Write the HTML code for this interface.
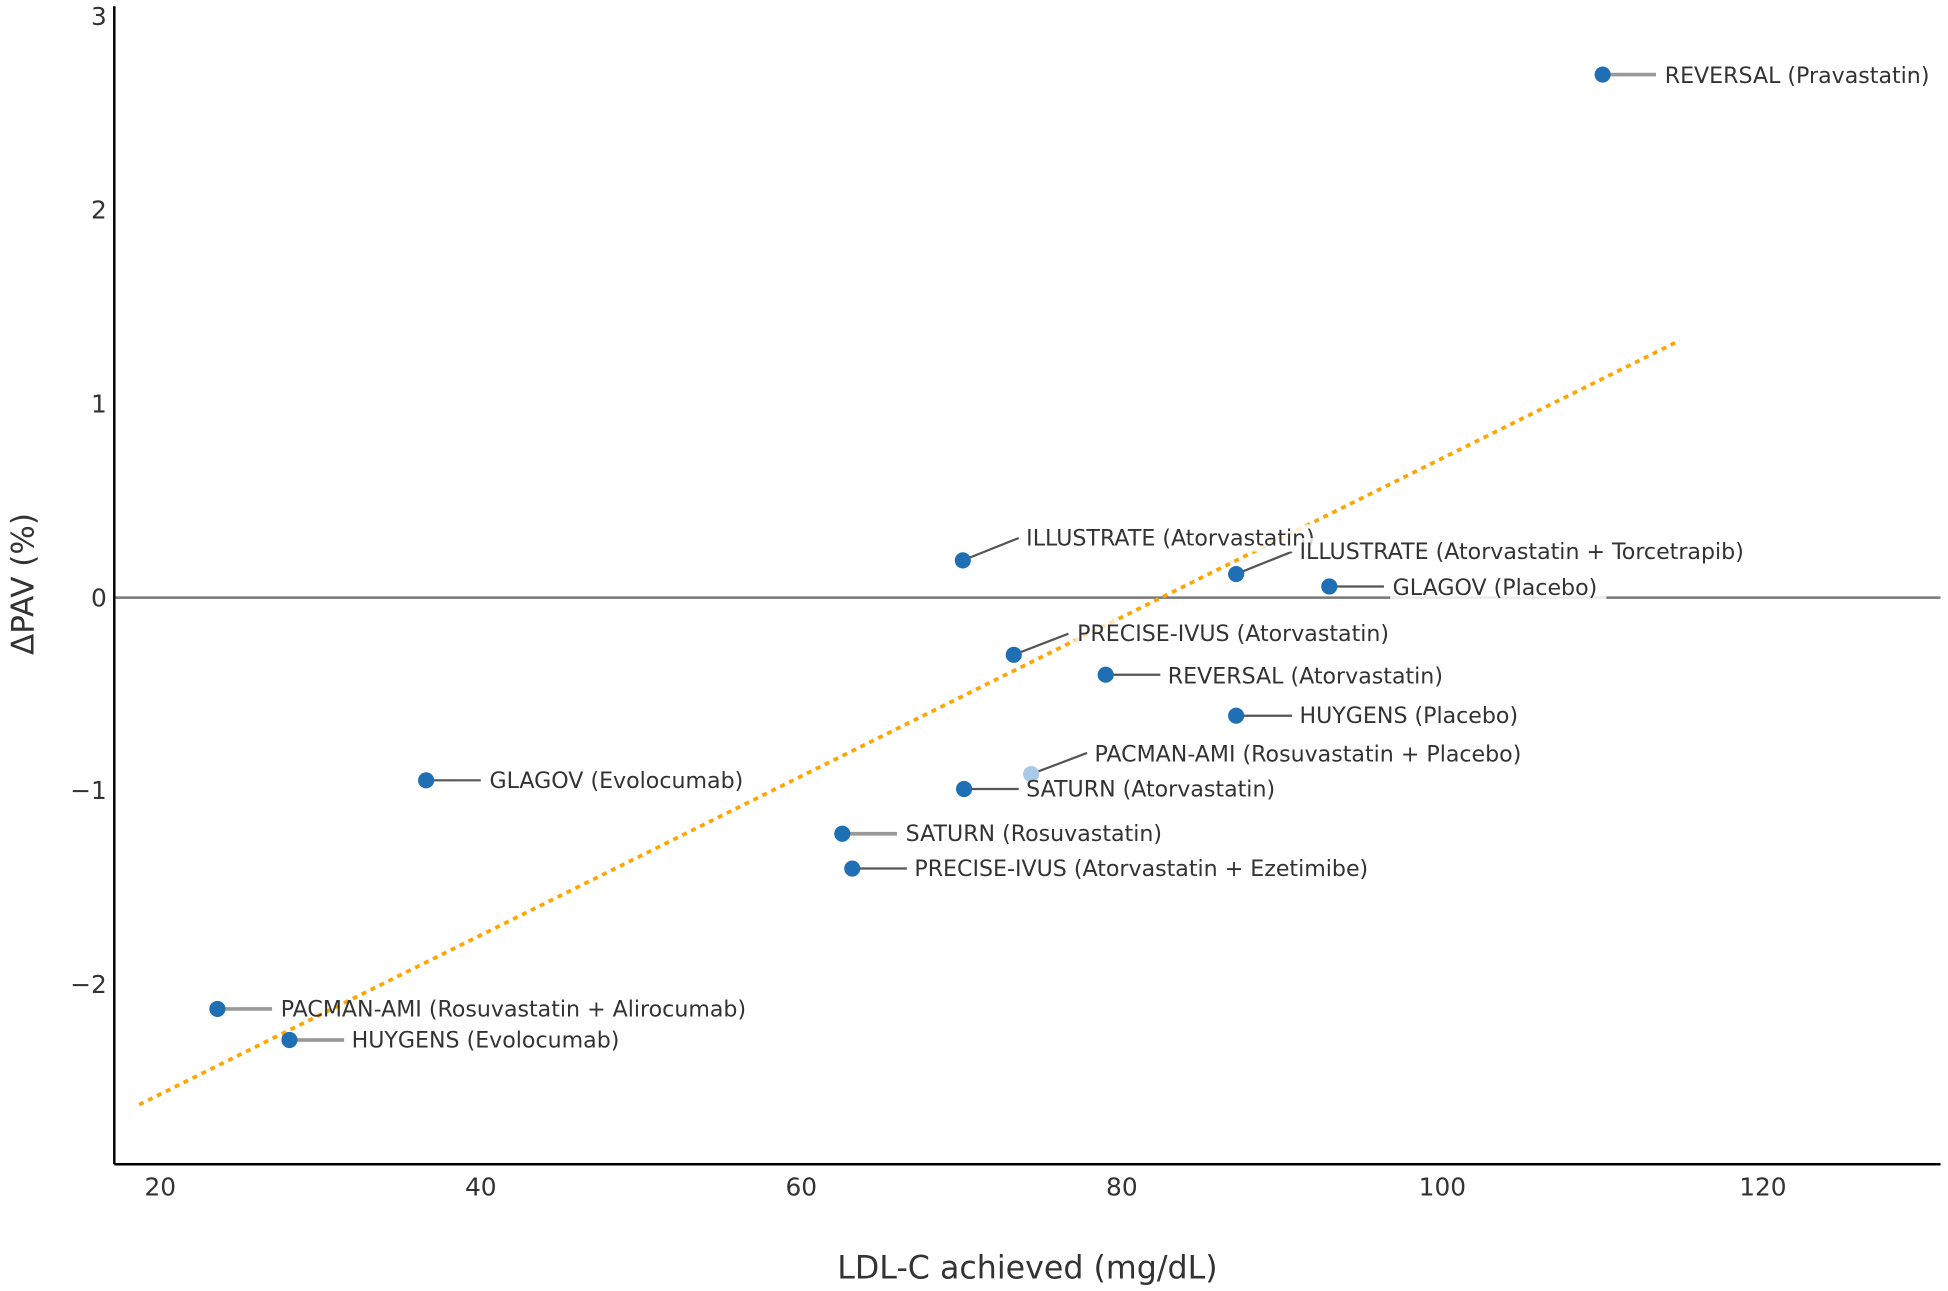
<!DOCTYPE html>
<html><head><meta charset="utf-8"><style>
html,body{margin:0;padding:0;background:#fff;}
svg{display:block;}
text{font-family:"DejaVu Sans","Liberation Sans",sans-serif;fill:#333;}
</style></head><body>
<svg width="1948" height="1291" viewBox="0 0 1568 1039" preserveAspectRatio="none" xmlns="http://www.w3.org/2000/svg">
<rect width="1568" height="1039" fill="#fff"/>
<line x1="92" y1="481" x2="1562" y2="481" stroke="#777" stroke-width="2"/>
<line x1="112" y1="889" x2="1352" y2="274" stroke="#FFA500" stroke-width="3" stroke-dasharray="4,4"/>
<line x1="92" y1="5" x2="92" y2="937" stroke="#000" stroke-width="2"/>
<line x1="92" y1="937" x2="1562" y2="937" stroke="#000" stroke-width="2"/>
<g font-size="20" text-anchor="end">
<text x="86" y="20">3</text><text x="86" y="176">2</text><text x="86" y="332">1</text>
<text x="86" y="488">0</text><text x="86" y="643">−1</text><text x="86" y="799">−2</text>
</g>
<g font-size="20" text-anchor="middle">
<text x="129" y="962">20</text><text x="387" y="962">40</text><text x="645" y="962">60</text>
<text x="903" y="962">80</text><text x="1161" y="962">100</text><text x="1419" y="962">120</text>
</g>
<text x="827" y="1029" font-size="25.5" text-anchor="middle">LDL-C achieved (mg/dL)</text>
<text transform="translate(27,470) rotate(-90)" font-size="25" text-anchor="middle">ΔPAV (%)</text>
<g stroke="#555" stroke-width="1.8">
<line x1="1290" y1="60" x2="1333" y2="60" stroke="#999" stroke-width="3"/>
<line x1="775" y1="451" x2="820" y2="433"/>
<line x1="995" y1="462" x2="1040" y2="444"/>
<line x1="1070" y1="472" x2="1114" y2="472"/>
<line x1="816" y1="527" x2="860" y2="510"/>
<line x1="890" y1="543" x2="934" y2="543"/>
<line x1="995" y1="576" x2="1040" y2="576"/>
<line x1="830" y1="623" x2="875" y2="606"/>
<line x1="776" y1="635" x2="820" y2="635"/>
<line x1="343" y1="628" x2="387" y2="628"/>
<line x1="678" y1="671" x2="722" y2="671" stroke="#999" stroke-width="3"/>
<line x1="686" y1="699" x2="730" y2="699"/>
<line x1="175" y1="812" x2="219" y2="812" stroke="#999" stroke-width="3"/>
<line x1="233" y1="837" x2="277" y2="837" stroke="#999" stroke-width="3"/>
</g>
<g fill="#1f6fb4">
<circle cx="1290" cy="60" r="6.5"/><circle cx="775" cy="451" r="6.5"/>
<circle cx="995" cy="462" r="6.5"/><circle cx="1070" cy="472" r="6.5"/>
<circle cx="816" cy="527" r="6.5"/><circle cx="890" cy="543" r="6.5"/>
<circle cx="995" cy="576" r="6.5"/><circle cx="830" cy="623" r="6.5" fill="#a9c9e6"/>
<circle cx="776" cy="635" r="6.5"/><circle cx="343" cy="628" r="6.5"/>
<circle cx="678" cy="671" r="6.5"/><circle cx="686" cy="699" r="6.5"/>
<circle cx="175" cy="812" r="6.5"/><circle cx="233" cy="837" r="6.5"/>
</g>
<g font-size="17.8">
<rect x="1338" y="50" width="222" height="22" fill="#fff" opacity="0.8"/>
<text x="1340" y="67">REVERSAL (Pravastatin)</text>
<rect x="824" y="422" width="244" height="22" fill="#fff" opacity="0.8"/>
<text x="826" y="439">ILLUSTRATE (Atorvastatin)</text>
<rect x="1044" y="433" width="376" height="22" fill="#fff" opacity="0.8"/>
<text x="1046" y="450">ILLUSTRATE (Atorvastatin + Torcetrapib)</text>
<rect x="1119" y="462" width="174" height="22" fill="#fff" opacity="0.85"/>
<text x="1121" y="479">GLAGOV (Placebo)</text>
<rect x="865" y="499" width="268" height="22" fill="#fff" opacity="0.7"/>
<text x="867" y="516">PRECISE-IVUS (Atorvastatin)</text>
<text x="940" y="550">REVERSAL (Atorvastatin)</text>
<text x="1046" y="582">HUYGENS (Placebo)</text>
<text x="881" y="613">PACMAN-AMI (Rosuvastatin + Placebo)</text>
<text x="826" y="641">SATURN (Atorvastatin)</text>
<text x="394" y="634">GLAGOV (Evolocumab)</text>
<text x="729" y="677">SATURN (Rosuvastatin)</text>
<text x="736" y="705">PRECISE-IVUS (Atorvastatin + Ezetimibe)</text>
<text x="226" y="818">PACMAN-AMI (Rosuvastatin + Alirocumab)</text>
<text x="283" y="843">HUYGENS (Evolocumab)</text>
</g>
</svg>
</body></html>
